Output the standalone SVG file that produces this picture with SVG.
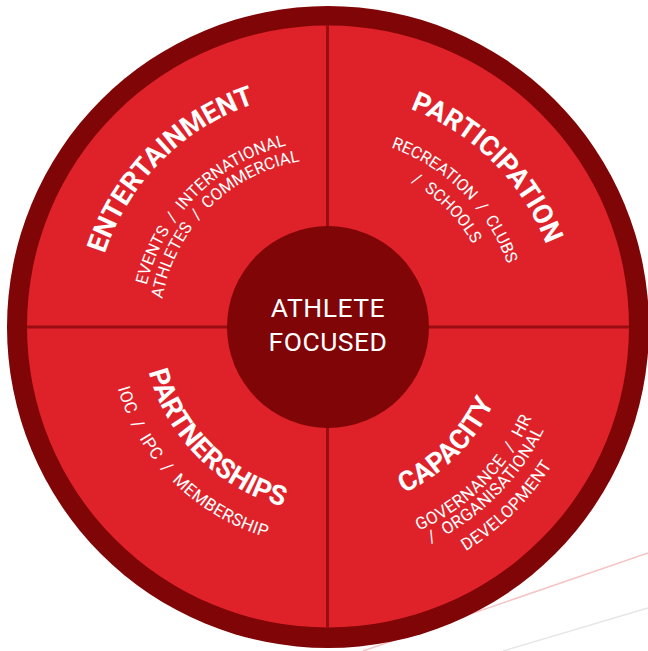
<svg xmlns="http://www.w3.org/2000/svg" xmlns:xlink="http://www.w3.org/1999/xlink" width="648" height="651" viewBox="0 0 648 651">
  <style>
    .title { font-family: Roboto, "Liberation Sans", sans-serif; font-weight: 700; font-size: 27.5px; fill: #ffffff; }
    .sub { font-family: Roboto, "Liberation Sans", sans-serif; font-weight: 400; font-size: 17px; letter-spacing: 0.4px; fill: #ffffff; }
    .sub.tight { font-size: 16.5px; letter-spacing: 0px; }
    .center { font-family: Roboto, "Liberation Sans", sans-serif; font-weight: 400; font-size: 26.5px; letter-spacing: 0.5px; fill: #ffffff; text-anchor: middle; }
    .divider { stroke: #9a0c12; stroke-width: 3; }
  </style>
  <defs>
    <path id="entT" d="M 161.8 493.2 A 235 235 0 0 1 494.2 160.8"/>
    <path id="entS1" d="M 193 462 A 191 191 0 0 1 463 192"/>
    <path id="entS2" d="M 209.2 445.8 A 168 168 0 0 1 446.8 208.2"/>
    <path id="parT" d="M 163.2 162.2 A 233 233 0 0 1 492.8 491.8"/>
    <path id="parS1" d="M 193.6 192.6 A 190 190 0 0 1 462.4 461.4"/>
    <path id="parS2" d="M 209.9 208.9 A 167 167 0 0 1 446.1 445.1"/>
    <path id="ptnT" d="M 194.4 193.4 A 189 189 0 0 0 461.6 460.6"/>
    <path id="ptnS" d="M 173.1 172.1 A 219 219 0 0 0 482.9 481.9"/>
    <path id="capT" d="M 198.6 456.4 A 183 183 0 0 0 457.4 197.6"/>
    <path id="capS1" d="M 170.3 484.7 A 223 223 0 0 0 485.7 169.3"/>
    <path id="capS2" d="M 155.5 499.5 A 244 244 0 0 0 500.5 154.5"/>
    <path id="capS3" d="M 142 513 A 263 263 0 0 0 514 141"/>
  </defs>

  <g id="background-lines">
    <line x1="363" y1="651" x2="648" y2="553" stroke="#f6c4c4" stroke-width="1.5"/>
    <line x1="503" y1="651" x2="648" y2="608" stroke="#e6e6e6" stroke-width="1.5"/>
  </g>

  <g id="wheel">
    <circle cx="328" cy="327" r="321" fill="#800506"/>
    <circle cx="328" cy="326.5" r="301" fill="#df222a"/>
  </g>

  <g id="connectors">
    <line class="divider" x1="327.5" y1="25" x2="327.5" y2="628"/>
    <line class="divider" x1="27" y1="327" x2="629" y2="327"/>
  </g>

  <g id="entertainment">
    <text class="title"><textPath xlink:href="#entT" href="#entT" startOffset="50%" text-anchor="middle">ENTERTAINMENT</textPath></text>
    <text class="sub tight"><textPath xlink:href="#entS1" href="#entS1" startOffset="50%" text-anchor="middle">EVENTS&#160; /&#160; INTERNATIONAL</textPath></text>
    <text class="sub tight"><textPath xlink:href="#entS2" href="#entS2" startOffset="50%" text-anchor="middle">ATHLETES&#160; /&#160; COMMERCIAL</textPath></text>
  </g>

  <g id="participation">
    <text class="title"><textPath xlink:href="#parT" href="#parT" startOffset="50%" text-anchor="middle">PARTICIPATION</textPath></text>
    <text class="sub tight"><textPath xlink:href="#parS1" href="#parS1" startOffset="50%" text-anchor="middle">RECREATION&#160; /&#160; CLUBS</textPath></text>
    <text class="sub tight"><textPath xlink:href="#parS2" href="#parS2" startOffset="50%" text-anchor="middle">/&#160; SCHOOLS</textPath></text>
  </g>

  <g id="partnerships">
    <text class="title"><textPath xlink:href="#ptnT" href="#ptnT" startOffset="50%" text-anchor="middle">PARTNERSHIPS</textPath></text>
    <text class="sub"><textPath xlink:href="#ptnS" href="#ptnS" startOffset="50%" text-anchor="middle">IOC&#160; /&#160; IPC&#160; /&#160; MEMBERSHIP</textPath></text>
  </g>

  <g id="capacity">
    <text class="title"><textPath xlink:href="#capT" href="#capT" startOffset="50%" text-anchor="middle">CAPACITY</textPath></text>
    <text class="sub"><textPath xlink:href="#capS1" href="#capS1" startOffset="50%" text-anchor="middle">GOVERNANCE&#160; /&#160; HR</textPath></text>
    <text class="sub"><textPath xlink:href="#capS2" href="#capS2" startOffset="50%" text-anchor="middle">/&#160; ORGANISATIONAL</textPath></text>
    <text class="sub"><textPath xlink:href="#capS3" href="#capS3" startOffset="50%" text-anchor="middle">DEVELOPMENT</textPath></text>
  </g>

  <g id="athlete-focused">
    <circle cx="328" cy="327" r="101" fill="#800506"/>
    <text class="center" x="328" y="317">ATHLETE</text>
    <text class="center" x="328" y="351">FOCUSED</text>
  </g>
</svg>
